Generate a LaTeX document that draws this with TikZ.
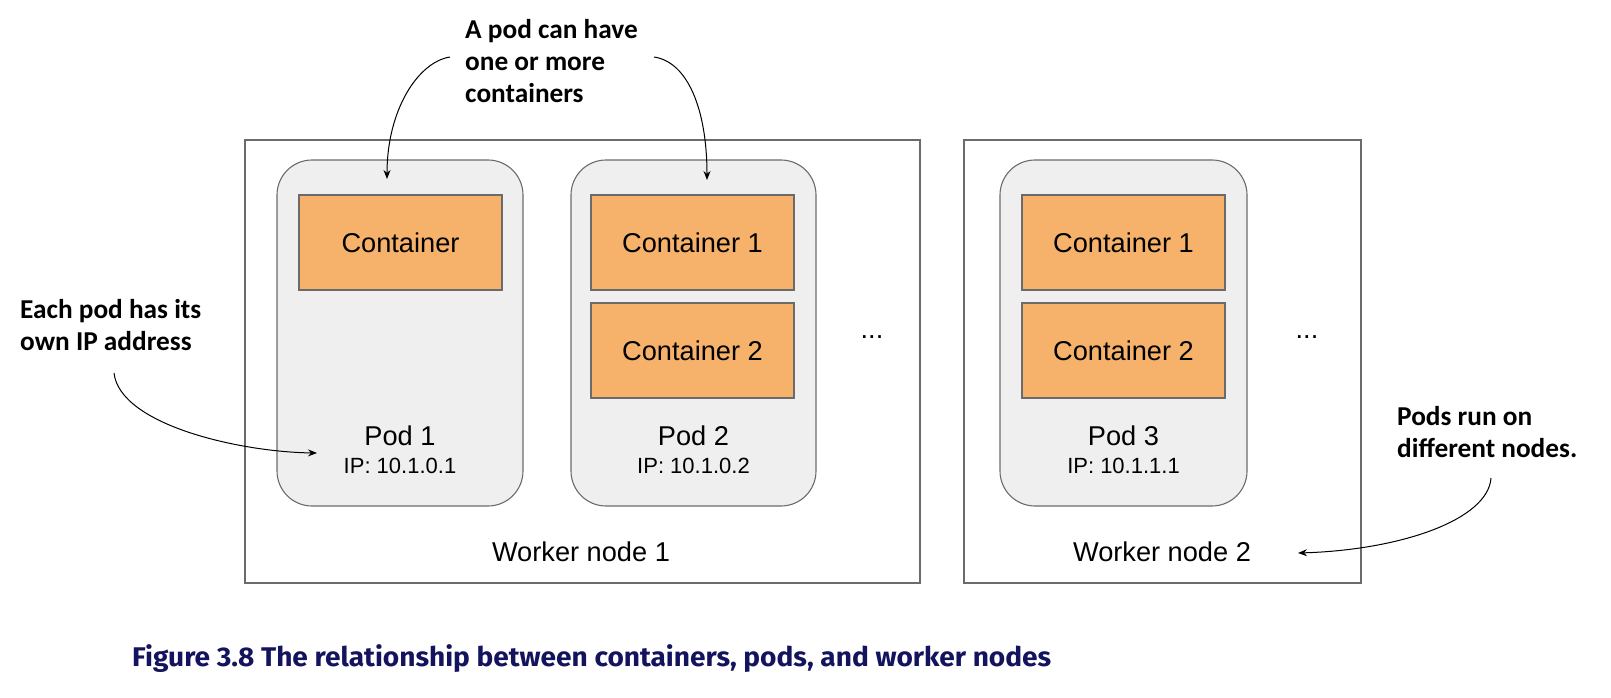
\documentclass[tikz,border=0pt]{standalone}
\usepackage{fontspec}
\setmainfont{Liberation Sans}
\newfontfamily\notefont{Carlito}
\newfontfamily\capfont[FakeStretch=1.04]{Fira Sans}
\usetikzlibrary{arrows.meta}
\definecolor{podfill}{HTML}{EFEFEF}
\definecolor{podline}{HTML}{6B6B6B}
\definecolor{contfill}{HTML}{F6B26B}
\definecolor{contline}{HTML}{6B6B6B}
\definecolor{capblue}{HTML}{14145E}
\begin{document}
\begin{tikzpicture}[x=1pt,y=-1pt,
  worker/.style={draw=podline,line width=1.1pt},
  pod/.style={draw=podline,fill=podfill,line width=1.1pt,rounded corners=35pt},
  cont/.style={draw=contline,fill=contfill,line width=1.3pt},
  lbl/.style={font=\fontsize{27.2}{31}\selectfont,inner sep=0pt},
  iplbl/.style={font=\fontsize{22}{26}\selectfont,inner sep=0pt},
  note/.style={font=\notefont\bfseries\fontsize{27.3}{32}\selectfont,align=left,inner sep=0pt},
  arr/.style={-{Stealth[length=9pt,width=7pt]},line width=1pt}]
\useasboundingbox (0,0) rectangle (1611,698);
% worker nodes
\draw[worker] (245,140) rectangle (920,583);
\draw[worker] (964,140) rectangle (1361,583);
% pods
\draw[pod] (277,160) rectangle (523,506);
\draw[pod] (571,160) rectangle (816,506);
\draw[pod] (1000,160) rectangle (1247,506);
% containers
\node[cont,lbl,minimum width=203pt,minimum height=95pt] (c1) at (400.5,242.5) {Container};
\node[cont,lbl,minimum width=203pt,minimum height=95pt] (c21) at (692.5,242.5) {Container 1};
\node[cont,lbl,minimum width=203pt,minimum height=95pt] (c22) at (692.5,350.5) {Container 2};
\node[cont,lbl,minimum width=203pt,minimum height=95pt] (c31) at (1123.5,242.5) {Container 1};
\node[cont,lbl,minimum width=203pt,minimum height=95pt] (c32) at (1123.5,350.5) {Container 2};
% pod labels
\node[lbl] (p1) at (400,436) {Pod 1};
\node[iplbl] (ip1) at (400,466) {IP: 10.1.0.1};
\node[lbl] (p2) at (693.5,436) {Pod 2};
\node[iplbl] (ip2) at (693.5,466) {IP: 10.1.0.2};
\node[lbl] (p3) at (1123.5,436) {Pod 3};
\node[iplbl] (ip3) at (1123.5,466) {IP: 10.1.1.1};
% worker labels
\node[lbl] (w1) at (581,552) {Worker node 1};
\node[lbl] (w2) at (1162,552) {Worker node 2};
% dots
\node[lbl] (d1) at (872,337) {...};
\node[lbl] (d2) at (1307,337) {...};
% notes
\node[note,anchor=north west] (n1) at (465,19) {A pod can have\\one or more\\containers};
\node[note,anchor=north west] (n2) at (20,299) {Each pod has its\\own IP address};
\node[note,anchor=north west] (n3) at (1397,406) {Pods run on\\different nodes.};
% arrow endpoints
\coordinate (a1s) at (450,57);
\coordinate (a1e) at (387,179);
\coordinate (a2s) at (654,57);
\coordinate (a2e) at (707,180);
\coordinate (a3s) at (114,373);
\coordinate (a3e) at (317,453);
\coordinate (a4s) at (1491,478);
\coordinate (a4e) at (1298,553);
\draw[arr] (a1s) .. controls (418,62) and (387,110) .. (a1e);
\draw[arr] (a2s) .. controls (688,62) and (707,110) .. (a2e);
\draw[arr] (a3s) .. controls (120,425) and (240,452) .. (a3e);
\draw[arr] (a4s) .. controls (1488,520) and (1400,550) .. (a4e);
% caption
\node[font=\capfont\bfseries\fontsize{27}{31}\selectfont,text=capblue,anchor=base west,inner sep=0pt] (cap) at (132,666) {Figure 3.8 The relationship between containers, pods, and worker nodes};
\end{tikzpicture}
\end{document}
